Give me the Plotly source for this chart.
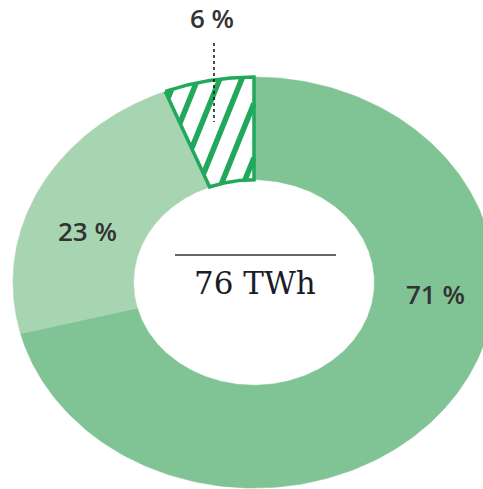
import numpy as np
import plotly.graph_objects as go

# ---------------- data ----------------
categories = ["Part 1", "Part 2", "Part 3"]
values = [71, 23, 6]
label_texts = ["71 %", "23 %", "6 %"]
total_text = "76 TWh"

# ---------------- layout / style ----------------
W, H = 483, 489
CX, CY = 254, 282.5        # centre of the donut (px)
RX, RY = 241, 205.5        # outer radii (px)
HOLE = 0.5
slice_colors = ["#80c495", "#a8d5b1", "#ffffff"]
hatch_color = "#21a85b"
label_pos_px = [(435, 294), (87, 231), (212, 18)]


def to_data(px, py):
    return (px - CX) / RX, (CY - py) / RY


x0, _ = to_data(0, 0)
x1, _ = to_data(W, 0)
_, ytop = to_data(0, 0)
_, ybot = to_data(0, H)

fig = go.Figure()

total = float(sum(values))
cum = np.concatenate([[0.0], np.cumsum(values)]) / total
angles = [(90 - 360 * cum[i], 90 - 360 * cum[i + 1]) for i in range(len(values))]


def sector_path(a0, a1, n=240):
    t = np.radians(np.linspace(a0, a1, n))
    xo, yo = np.cos(t), np.sin(t)
    xi, yi = HOLE * np.cos(t[::-1]), HOLE * np.sin(t[::-1])
    xs = np.concatenate([xo, xi, xo[:1]])
    ys = np.concatenate([yo, yi, yo[:1]])
    return xs, ys


for i, (a0, a1) in enumerate(angles):
    xs, ys = sector_path(a0, a1)
    fig.add_trace(go.Scatter(
        x=xs, y=ys, mode="lines", fill="toself",
        fillcolor=slice_colors[i],
        line=dict(width=0.6 if i < 2 else 0, color=slice_colors[i]),
        name=categories[i], hoverinfo="skip", showlegend=False))

# hatch stripes for the last (hatched) slice
a_lo, a_hi = sorted(angles[2])
a_lo_m, a_hi_m = a_lo % 360, a_hi % 360
ang = np.radians(68)
sx, sy = [], []
s = np.arange(-260, 260, 0.25)
for k in range(-6, 6):
    bx, by = 203 + 22 * k, 175
    px = bx + s * np.cos(ang)
    py = by - s * np.sin(ang)
    dx, dy = to_data(px, py)
    r = np.hypot(dx, dy)
    th = np.degrees(np.arctan2(dy, dx)) % 360
    inside = (r >= HOLE) & (r <= 1.0) & (th >= a_lo_m) & (th <= a_hi_m)
    prev = False
    for xx, yy, ins in zip(dx, dy, inside):
        if ins:
            sx.append(xx); sy.append(yy)
        elif prev:
            sx.append(None); sy.append(None)
        prev = ins
    sx.append(None); sy.append(None)

fig.add_trace(go.Scatter(x=sx, y=sy, mode="lines",
                         line=dict(color=hatch_color, width=5.5),
                         hoverinfo="skip", showlegend=False))

xs, ys = sector_path(*angles[2])
fig.add_trace(go.Scatter(x=xs, y=ys, mode="lines",
                         line=dict(color=hatch_color, width=3.5),
                         hoverinfo="skip", showlegend=False))

# labels
for txt, (lx, ly) in zip(label_texts, label_pos_px):
    ax, ay = to_data(lx, ly)
    fig.add_annotation(x=ax, y=ay, text=txt, showarrow=False,
                       xanchor="center", yanchor="middle",
                       font=dict(family="Open Sans", size=26, color="#333333", weight=650))

# leader line for small slice
lx0, ly0 = to_data(214, 43)
lx1, ly1 = to_data(214, 122)
fig.add_shape(type="line", x0=lx0, y0=ly0, x1=lx1, y1=ly1,
              line=dict(color="#111111", width=1.5, dash="dot"), layer="above")

# centre text + rule
tx, ty = to_data(255, 283)
fig.add_annotation(x=tx, y=ty, text=total_text, showarrow=False,
                   xanchor="center", yanchor="middle",
                   font=dict(family="DejaVu Serif", size=31, color="#1c1c28"))
rx0, ry0 = to_data(175, 255)
rx1, _ = to_data(336, 255)
fig.add_shape(type="line", x0=rx0, y0=ry0, x1=rx1, y1=ry0,
              line=dict(color="#333333", width=1.6), layer="above")

fig.update_layout(
    width=W, height=H, autosize=False,
    margin=dict(l=0, r=0, t=0, b=0),
    paper_bgcolor="white", plot_bgcolor="white",
    xaxis=dict(range=[x0, x1], visible=False, fixedrange=True),
    yaxis=dict(range=[ybot, ytop], visible=False, fixedrange=True),
    showlegend=False,
)

fig.write_html(
    "out.html",
    config={"displayModeBar": False},
    post_script="document.body.style.margin='0';document.body.style.overflow='hidden';",
)
